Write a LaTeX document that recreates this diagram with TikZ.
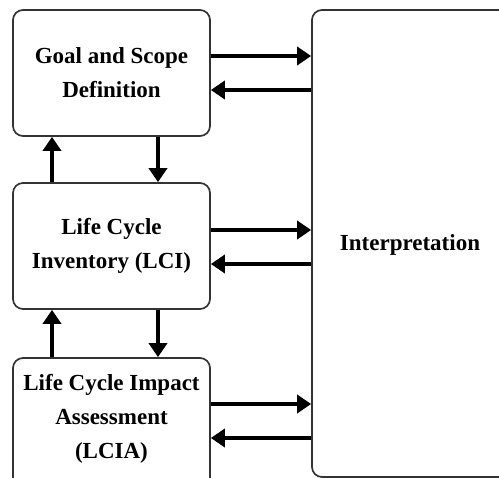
\documentclass[tikz,border=0pt]{standalone}
\usepackage{fontspec}
\setmainfont{Liberation Serif}
\usetikzlibrary{arrows.meta}
\begin{document}
\begin{tikzpicture}[x=1pt,y=-1pt,
  box/.style={draw=black!80,line width=1.7pt,rounded corners=10pt,inner sep=0pt,
    align=center,font=\bfseries\fontsize{23}{34}\selectfont},
  lbl/.style={align=center,font=\bfseries\fontsize{23}{34}\selectfont},
  flow/.style={line width=3.6pt,-{Triangle[length=14pt,width=18pt]}}]
\useasboundingbox (0,0) rectangle (499,478);
\node[box,minimum width=197pt,minimum height=126pt] (b1) at (111.5,73) {Goal and Scope\\Definition};
\node[box,minimum width=197pt,minimum height=126pt] (b2) at (111.5,246) {Life Cycle\\Inventory (LCI)};
\node[box,minimum width=197pt,minimum height=130pt] (b3) at (111.5,423) {};
\node[lbl] (t3) at (111.5,419) {Life Cycle Impact\\Assessment\\(LCIA)};
\node[box,minimum width=200pt,minimum height=467pt] (ip) at (412,243.5) {};
\node[lbl] (it) at (410,245) {Interpretation};
% horizontal arrows
\draw[flow] (b1.east |- 0,56) -- (ip.west |- 0,56);
\draw[flow] (ip.west |- 0,90) -- (b1.east |- 0,90);
\draw[flow] (b2.east |- 0,230) -- (ip.west |- 0,230);
\draw[flow] (ip.west |- 0,264) -- (b2.east |- 0,264);
\draw[flow] (b3.east |- 0,404) -- (ip.west |- 0,404);
\draw[flow] (ip.west |- 0,438) -- (b3.east |- 0,438);
% vertical arrows
\draw[flow] (b2.north -| 52,0) -- (b1.south -| 52,0);
\draw[flow] (b1.south -| 158,0) -- (b2.north -| 158,0);
\draw[flow] (b3.north -| 52,0) -- (b2.south -| 52,0);
\draw[flow] (b2.south -| 158,0) -- (b3.north -| 158,0);
\end{tikzpicture}
\end{document}
